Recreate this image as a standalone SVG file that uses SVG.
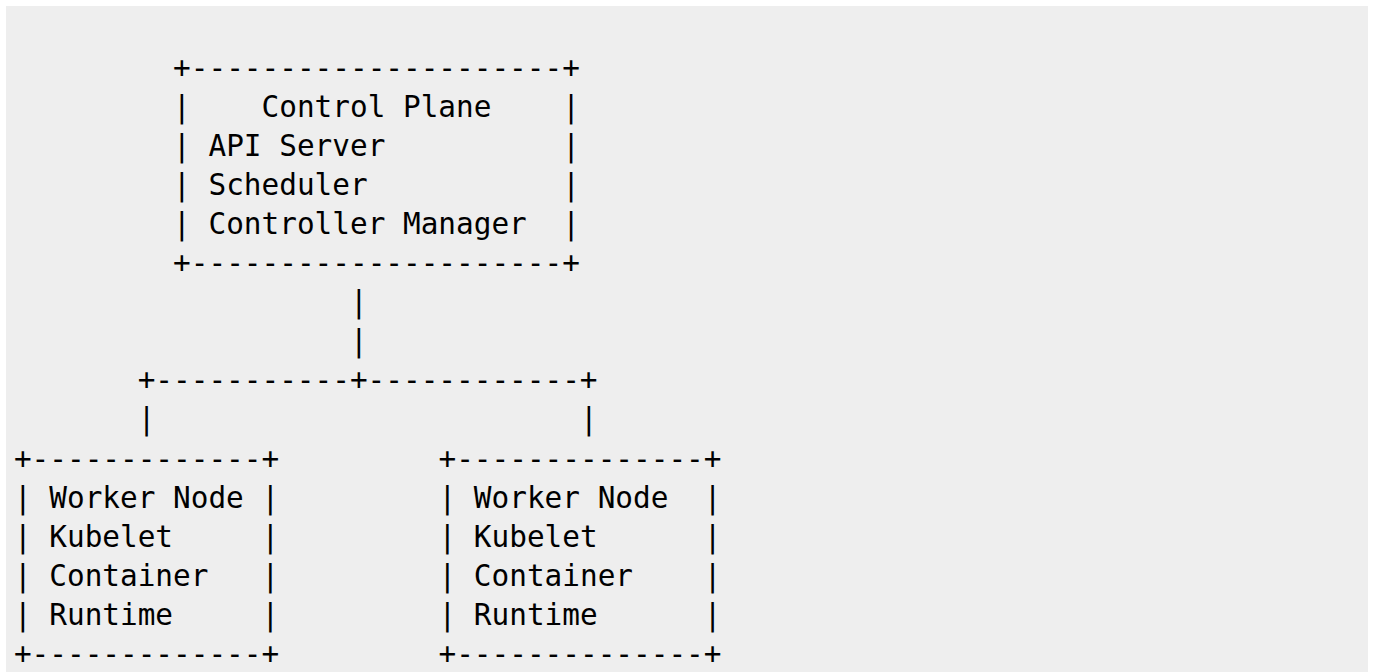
<svg xmlns="http://www.w3.org/2000/svg" width="1373" height="672" viewBox="0 0 1373 672">
<style>
text{font-family:"DejaVu Sans Mono","Liberation Mono",monospace;font-size:29.38px;fill:#000;white-space:pre}
</style>
<rect x="0" y="0" width="1373" height="672" fill="#ffffff"/>
<rect x="6" y="6" width="1362" height="666" fill="#eeeeee"/>
<g id="control-plane">
<text x="173.1" y="78" xml:space="preserve">+---------------------+</text>
<text x="173.1" y="117.05" xml:space="preserve">|    Control Plane    |</text>
<text x="173.1" y="156.1" xml:space="preserve">| API Server          |</text>
<text x="173.1" y="195.15" xml:space="preserve">| Scheduler           |</text>
<text x="173.1" y="234.2" xml:space="preserve">| Controller Manager  |</text>
<text x="173.1" y="273.25" xml:space="preserve">+---------------------+</text>
</g>
<g id="connectors">
<text x="350.0" y="312.3" xml:space="preserve">|</text>
<text x="350.0" y="351.35" xml:space="preserve">|</text>
<text x="137.7" y="390.4" xml:space="preserve">+-----------+------------+</text>
<text x="137.7" y="429.45" xml:space="preserve">|</text>
<text x="580.0" y="429.45" xml:space="preserve">|</text>
</g>
<g id="worker-node-1">
<text x="13.9" y="468.5" xml:space="preserve">+-------------+</text>
<text x="13.9" y="507.55" xml:space="preserve">| Worker Node |</text>
<text x="13.9" y="546.6" xml:space="preserve">| Kubelet     |</text>
<text x="13.9" y="585.65" xml:space="preserve">| Container   |</text>
<text x="13.9" y="624.7" xml:space="preserve">| Runtime     |</text>
<text x="13.9" y="663.75" xml:space="preserve">+-------------+</text>
</g>
<g id="worker-node-2">
<text x="438.5" y="468.5" xml:space="preserve">+--------------+</text>
<text x="438.5" y="507.55" xml:space="preserve">| Worker Node  |</text>
<text x="438.5" y="546.6" xml:space="preserve">| Kubelet      |</text>
<text x="438.5" y="585.65" xml:space="preserve">| Container    |</text>
<text x="438.5" y="624.7" xml:space="preserve">| Runtime      |</text>
<text x="438.5" y="663.75" xml:space="preserve">+--------------+</text>
</g>
</svg>
